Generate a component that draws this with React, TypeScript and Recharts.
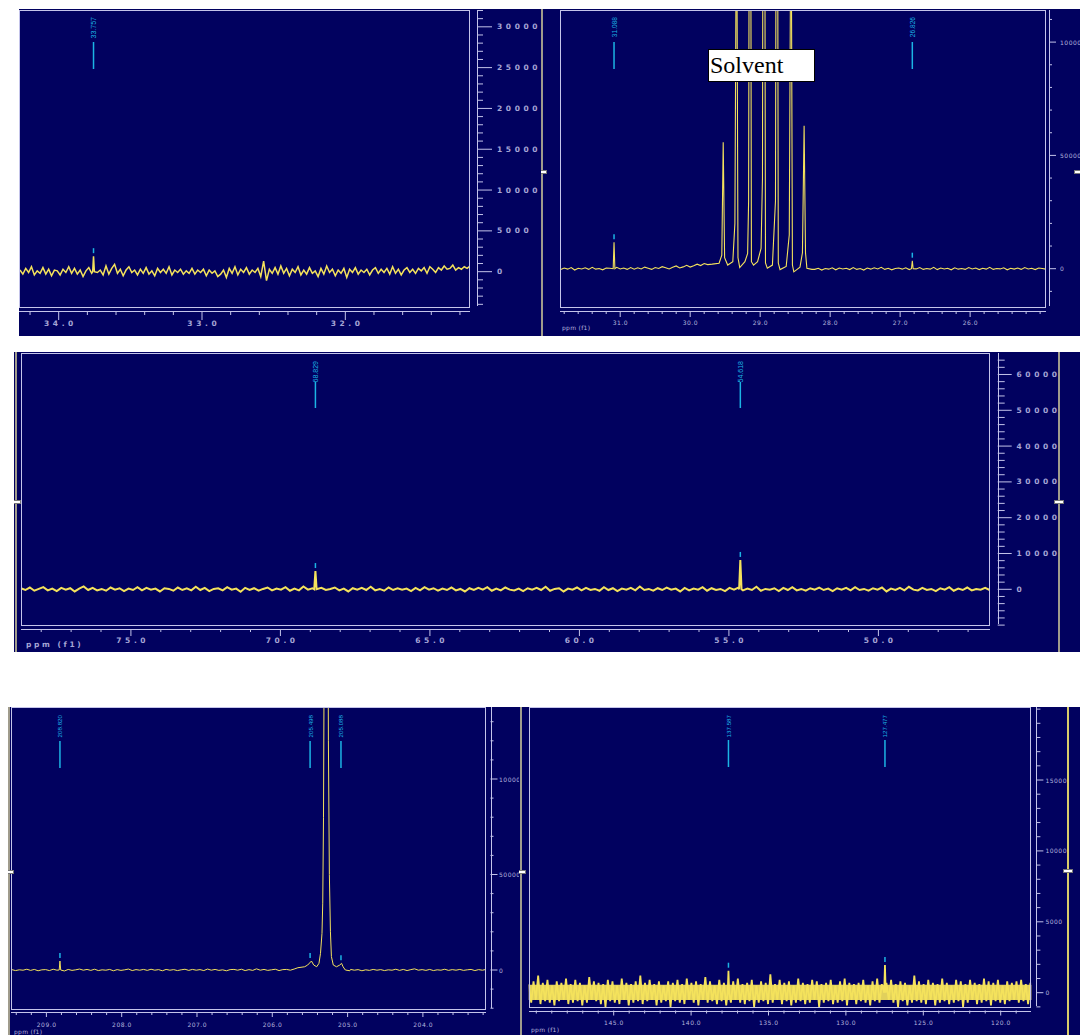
import React from 'react';
import { ComposedChart, Line, XAxis, YAxis, ReferenceDot, ReferenceArea } from 'recharts';

const NAVY = '#01015f';
const YELLOW = '#f4e25c';
const CYAN = '#1cb4e4';
const FRAME = '#c4c4ea';

// ---- panel 1 : 34.3 - 31.1 ppm
const p1NoiseStart = 34.27;
const p1NoiseStep = 0.02;
const p1Noise = [
  200, -300, 400, -100, 600, -400, 100, -200, 500, -300,
  300, -500, 200, 100, -400, 300, -100, 600, -200, 400,
  -300, 200, -600, 100, 500, -200, 300, -100, 200, -400,
  700, -300, 400, 900, -200, 300, -500, 200, 600, -100,
  200, -400, 300, -200, 500, -300, 100, -500, 400, -100,
  300, -200, 600, -400, 200, -100, 300, -300, 100, -200,
  400, -300, 200, -100, 300, -500, 200, -200, 100, -600,
  -300, 200, -700, 400, -200, 600, -400, 300, -100, 500,
  -300, 200, -100, 400, -600, 1300, -1100, 300, -200, 500,
  -300, 700, -200, 400, -500, 300, -100, 600, -400, 200,
  -300, 500, -200, 100, -600, 400, -300, 700, -100, 300,
  -500, 200, -200, 400, -700, 300, -100, 500, -300, 200,
  -100, 300, -400, 200, 500, -200, 300, -100, 400, -300,
  600, -200, 300, -400, 200, 500, -100, 300, -200, 400,
  100, 500, -200, 600, 300, -100, 500, 200, 700, 300,
  400, 800, 200, 500, 300, 600, 400, 700,
];
const p1SpikePpm = [33.757];
const p1SpikeHeight = [1900];
const p1LabelText = ['33.757'];
const p1XLabels = [34, 33, 32];
const p1YLabels = [0, 5000, 10000, 15000, 20000, 25000, 30000];

// ---- panel 2 : 31.9 - 24.9 ppm (solvent septet)
const p2NoiseLeft = [
  -400, 300, -200, 500, -600, 200, -100, 400, -300, 600,
  -200, 100, -500, 300, 200, -400, 600, -100, 300, -300,
  500, -200, 400, -100, 700, 200, -300, 500, 100, 900,
  400, -100, 600, 1200, 300, 800, 1500, 700, 1300, 2000,
  1400, 2300, 1800,
];
const p2NoiseRight = [
  -300, 200, -600, 100, -200, 400, -500, 300, -100, 200,
  -400, 500, -300, 100, -600, 300, -200, 400, -100, 600,
  -300, 200, -500, 100, 300, -200, 400, -400, 200, -100,
  500, -300, 100, -200, 600, -400, 300, -100, 200, -500,
  400, -200, 100, -300, 500, -100, 300, -400, 200, -200,
  600, -300, 100, -100, 400, -500, 200, -200, 300, -300,
  500, -100, 200, -400, 300, 100, -200,
];
const p2SolventPpm = [
  29.685, 29.587, 29.548, 29.528, 29.508, 29.464, 29.391, 29.361, 29.337, 29.317,
  29.292, 29.218, 29.179, 29.165, 29.145, 29.125, 29.095, 29.037, 28.987, 28.967,
  28.948, 28.924, 28.898, 28.825, 28.781, 28.761, 28.741, 28.716, 28.628, 28.584,
  28.559, 28.539, 28.519, 28.431, 28.396, 28.372, 28.352, 28.332, 28.26,
];
const p2SolventValue = [
  2000, 2400, 6000, 55800, 4900, 1600, 3100, 20000, 180000, 4900,
  500, 3100, 6700, 30000, 340000, 3100, 1600, 3100, 9000, 40000,
  400000, 2500, 200, 1600, 30000, 340000, 2500, -400, 1000, 15000,
  180000, 1600, -1400, 700, 7000, 63100, 7000, 200, -300,
];
const p2SpikePpm = [31.088, 26.826];
const p2SpikeHeight = [11650, 3530];
const p2LabelText = ['31.088', '26.826'];
const p2XLabels = [31, 30, 29, 28, 27, 26];
const p2YLabels = [0, 50000, 100000];

// ---- panel 3 : 78.7 - 46.3 ppm
const p3Noise = [
  300, -200, 500, -400, 100, 600, -300, 200, -500, 400,
  -100, 300, -600, 200, 800, -200, 400, -300, 100, -400,
  500, -100, 300, -500, 200, -200, 600, -300, 400, -100,
  200, -600, 300, 100, -400, 500, -200, 300, -300, 700,
  -200, 400, -500, 100, 300, -300, 600, -100, 200, -700,
  400, -200, 300, -400, 100, 500, -300, 200, -100, 600,
  -400, 200, -300, 800, -100, 300, -500, 400, -200, 100,
  500, -300, 200, -600, 300, -100, 400, -200, 700, -300,
  100, -400, 500, -200, 300, -100, 200, -500, 400, -300,
  600, -100, 300, -400, 200, -200, 500, -300, 100, -600,
  300, -200, 400, -100, 600, -400, 200, -300, 500, -100,
  -300, 200, -500, 300, -100, 400, -200, 700, -400, 100,
  300, -600, 200, -100, 500, -300, 400, -200, 100, -400,
  600, -200, 300, -500, 200, -100, 400, -300, 800, -200,
  100, -400, 300, -200, 500, -100, 200, -600, 400, -300,
  200, -100, 600, -400, 300, -200, 100, -500, 400, -100,
  500, -300, 200, -200, 700, -400, 100, -100, 300, -500,
  400, -200, 600, -300, 100, -400, 300, -100, 500, -200,
  200, -500, 300, -100, 400, -300, 600, -200, 100, -400,
  300, -100, 500, -600, 200, -200, 400, -300, 700, -100,
  -300, 400, -200, 100, -500, 300, -100, 600, -400, 200,
  -200, 500, -300, 100, -100, 400, -200,
];
const p3SpikePpm = [68.829, 54.618];
const p3SpikeHeight = [5100, 8200];
const p3LabelText = ['68.829', '54.618'];
const p3XLabels = [75, 70, 65, 60, 55, 50];
const p3YLabels = [0, 10000, 20000, 30000, 40000, 50000, 60000];

// ---- panel 4 : 209.5 - 203.2 ppm (solvent C=O)
const p4Noise = [
  200, -300, 100, -100, 400, -200, 300, -400, 100, 200,
  -300, 400, -100, 200, -500, 300, -200, 100, 500, -100,
  300, -200, 400, -300, 100, -100, 300, -400, 200, -200,
  100, 500, -300, 200, -100, 300, -200, 400, -100, 200,
  -400, 300, -100, 200, -300, 100, 400, -200, 300, -100,
  200, -300, 500, -100, 300, -200, 100, -400, 200, 300,
  -100, 400, -300, 200, -200, 600, -100, 300, -200, 100,
  400, -300, 200, 300, -100, 500, 200, -100, 300, 600,
  200, 400, 100, -200, 300, -300, 200, -100, 100, -200,
  300, -100, 200, -400, 100, -200, 300, -100, 200, -300,
  100, -100, 400, -200, 300, -300, 200, 600, -100, 200,
  -200, 300, -300, 100, -100, 400, -200, 200, -100, 300,
  -200, 100, 300, -300, 200, -100, 300,
];
const p4SolventPpm = [
  205.66, 205.57, 205.53, 205.48, 205.45, 205.41, 205.38, 205.36, 205.34, 205.33,
  205.32, 205.308, 205.29, 205.268, 205.255, 205.242, 205.228, 205.215, 205.19, 205.147,
  205.104, 205.08, 205.06, 205.03, 204.97,
];
const p4SolventValue = [
  1200, 1700, 2600, 4700, 2600, 1700, 3500, 8700, 19200, 35000,
  80000, 200000, 400000, 300000, 120000, 50000, 20000, 7000, 2600, 1700,
  2600, 3500, 1700, 0, -400,
];
const p4SpikePpm = [208.82];
const p4SpikeHeight = [4700];
const p4LabelPpm = [208.82, 205.498, 205.088];
const p4LabelMark = [4700, 4700, 3500];
const p4LabelText = ['208.820', '205.498', '205.088'];
const p4XLabels = [209, 208, 207, 206, 205, 204];
const p4YLabels = [0, 50000, 100000];

// ---- panel 5 : 150.5 - 118.0 ppm (noisy band)
const p5Noise = [
  600, -700, 800, -500, 1200, -800, 700, -600, 900, -700,
  500, -900, 800, -600, 700, -500, 1000, -800, 600, -700,
  900, -600, 700, -900, 500, -700, 1100, -500, 800, -600,
  700, -800, 600, -1000, 900, -600, 800, -700, 500, -800,
  1000, -500, 700, -900, 600, -700, 800, -600, 1200, -800,
  700, -600, 900, -500, 600, -900, 800, -700, 500, -600,
  800, -1000, 700, -600, 900, -700, 600, -800, 1000, -500,
  700, -700, 800, -900, 600, -500, 1100, -700, 800, -600,
  500, -800, 900, -600, 700, -900, 600, -700, 800, -500,
  1000, -700, 600, -800, 700, -600, 900, -1000, 500, -700,
  800, -600, 700, -800, 1300, -700, 600, -500, 900, -800,
  700, -600, 800, -900, 500, -700, 1000, -600, 700, -800,
  600, -700, 900, -500, 800, -1000, 600, -700, 700, -600,
  900, -800, 500, -700, 800, -600, 1000, -900, 700, -500,
  600, -800, 700, -600, 900, -700, 500, -900, 800, -600,
  1000, -700, 600, -800, 700, -500, 900, -700, 600, -1000,
  800, -600, 700, -900, 500, -700, 1200, -600, 800, -700,
  600, -800, 900, -500, 700, -900, 600, -700, 1000, -600,
  700, -800, 500, -700, 900, -600, 800, -1000, 600, -700,
  900, -500, 700, -800, 600, -700, 1000, -600, 800, -900,
  700, -600, 900, -700, 500, -800, 800, -600, 700, -500,
  800, -700, 900, -600, 600, -800, 700,
];
const p5BandLo = -520;
const p5BandHi = 560;
const p5SpikePpm = [137.587, 127.477];
const p5SpikeHeight = [1550, 1950];
const p5LabelText = ['137.587', '127.477'];
const p5XLabels = [145, 140, 135, 130, 125, 120];
const p5YLabels = [0, 5000, 10000, 15000];

type Pt = { ppm: number; v: number };
type NoisePart = { start: number; step: number; values: number[] };

function buildSpectrum(
  parts: NoisePart[],
  spikePpm: number[],
  spikeHeight: number[],
  hw: number,
  featPpm: number[] = [],
  featVal: number[] = [],
): Pt[] {
  const fLo = featPpm.length ? Math.min(...featPpm) : Infinity;
  const fHi = featPpm.length ? Math.max(...featPpm) : -Infinity;
  const pts: Pt[] = [];
  parts.forEach(({ start, step, values }) => {
    values.forEach((v, i) => {
      const ppm = +(start - i * step).toFixed(4);
      if (ppm >= fLo && ppm <= fHi) return;
      if (spikePpm.some((s) => Math.abs(s - ppm) < hw * 1.5)) return;
      pts.push({ ppm, v });
    });
  });
  featPpm.forEach((p, i) => pts.push({ ppm: p, v: featVal[i] }));
  spikePpm.forEach((p, i) => {
    pts.push({ ppm: p + hw, v: 0 }, { ppm: p, v: spikeHeight[i] }, { ppm: p - hw, v: 0 });
  });
  return pts.sort((a, b) => b.ppm - a.ppm);
}

const steps = (lo: number, hi: number, step: number) => {
  const out: number[] = [];
  const n = Math.round((hi - lo) / step);
  for (let i = 0; i <= n; i++) out.push(Math.round((lo + i * step) * 1000) / 1000);
  return out;
};

const BIG = { fontSize: 7.5, fontWeight: 700, letterSpacing: 3.6, fill: '#a6a6d6', fontFamily: 'DejaVu Sans' };
const SMALL = { fontSize: 6, fontWeight: 400, letterSpacing: 0.5, fill: '#b4b4de', fontFamily: 'DejaVu Sans' };

const PANELS = [
  {
    id: 'p1',
    box: { left: 19, top: 9, width: 522, height: 327 },
    plot: { left: 19, top: 10, right: 470, bottom: 308 },
    xDomain: [31.13, 34.277], yDomain: [-4450, 32060],
    xTicks: steps(31.2, 34.2, 0.2), yTicks: steps(-4000, 32000, 1000),
    xLabels: p1XLabels, yLabels: p1YLabels,
    data: buildSpectrum([{ start: p1NoiseStart, step: p1NoiseStep, values: p1Noise }], p1SpikePpm, p1SpikeHeight, 0.006),
    tags: p1SpikePpm.map((p, i) => ({ ppm: p, mark: p1SpikeHeight[i], text: p1LabelText[i] })),
    font: BIG, lineWidth: 1.5,
    ax: { xLine: 3, xMinor: 4, xMajor: 9, xLabel: 15, yLine: 7, yMinor: 6, yMajor: 15, yLabel: 27 },
    tag: { text: 7, lineTop: 32, lineBottom: 59, size: 7 },
    sliders: [] as any[], ppmLabel: null as any,
  },
  {
    id: 'p2',
    box: { left: 541, top: 9, width: 539, height: 327 },
    plot: { left: 560, top: 10, right: 1045.5, bottom: 308.3 },
    xDomain: [24.923, 31.86], yDomain: [-17480, 114170],
    xTicks: steps(25, 31.8, 0.2), yTicks: steps(-10000, 110000, 10000),
    xLabels: p2XLabels, yLabels: p2YLabels,
    data: buildSpectrum(
      [{ start: 31.85, step: 0.05, values: p2NoiseLeft }, { start: 28.22, step: 0.05, values: p2NoiseRight }],
      p2SpikePpm, p2SpikeHeight, 0.012, p2SolventPpm, p2SolventValue),
    tags: p2SpikePpm.map((p, i) => ({ ppm: p, mark: p2SpikeHeight[i], text: p2LabelText[i] })),
    font: SMALL, lineWidth: 1.1,
    ax: { xLine: 2.7, xMinor: 3, xMajor: 6, xLabel: 14.4, yLine: 3.5, yMinor: 3, yMajor: 7, yLabel: 14.5 },
    tag: { text: 7, lineTop: 32, lineBottom: 59, size: 6.6 },
    sliders: [{ x: 541.5, y: 172, color: '#a09c8c' }, { x: 1079, y: 172, color: 'transparent' }],
    ppmLabel: { x: 562, y: 325, big: false },
    solvent: { left: 708, top: 49, width: 107, height: 33 },
  },
  {
    id: 'p3',
    box: { left: 14, top: 352, width: 1066, height: 300 },
    plot: { left: 20.7, top: 353, right: 990.5, bottom: 626 },
    xDomain: [46.251, 78.686], yDomain: [-10250, 66000],
    xTicks: steps(47, 78, 1), yTicks: steps(-10000, 64000, 2000),
    xLabels: p3XLabels, yLabels: p3YLabels,
    data: buildSpectrum([{ start: 78.68, step: 0.15, values: p3Noise }], p3SpikePpm, p3SpikeHeight, 0.04),
    tags: p3SpikePpm.map((p, i) => ({ ppm: p, mark: p3SpikeHeight[i], text: p3LabelText[i] })),
    font: BIG, lineWidth: 2,
    ax: { xLine: 3, xMinor: 3, xMajor: 7, xLabel: 14, yLine: 7.2, yMinor: 7, yMajor: 14, yLabel: 26 },
    tag: { text: 8, lineTop: 29, lineBottom: 55, size: 7 },
    sliders: [{ x: 15.5, y: 502, color: '#a09c8c' }, { x: 1059, y: 502, color: '#a09c8c' }],
    ppmLabel: { x: 26, y: 641, big: true },
  },
  {
    id: 'p4',
    box: { left: 8, top: 707, width: 511, height: 328 },
    plot: { left: 11, top: 707, right: 486, bottom: 1010 },
    xDomain: [203.162, 209.47], yDomain: [-20940, 137700],
    xTicks: steps(203.2, 209.4, 0.2), yTicks: steps(-20000, 130000, 10000),
    xLabels: p4XLabels, yLabels: p4YLabels,
    data: buildSpectrum([{ start: 209.46, step: 0.05, values: p4Noise }], p4SpikePpm, p4SpikeHeight, 0.01, p4SolventPpm, p4SolventValue),
    tags: p4LabelPpm.map((p, i) => ({ ppm: p, mark: p4LabelMark[i], text: p4LabelText[i] })),
    font: SMALL, lineWidth: 1,
    ax: { xLine: 2, xMinor: 3, xMajor: 5, xLabel: 14.5, yLine: 4.5, yMinor: 3, yMajor: 7, yLabel: 13 },
    tag: { text: 8, lineTop: 34, lineBottom: 61, size: 6.2 },
    sliders: [{ x: 9, y: 872, color: '#a09c8c' }],
    ppmLabel: { x: 14, y: 1029, big: false },
  },
  {
    id: 'p5',
    box: { left: 519, top: 707, width: 561, height: 328 },
    plot: { left: 528.7, top: 707, right: 1031.4, bottom: 1007.5 },
    xDomain: [118.017, 150.491], yDomain: [-1044, 20150],
    xTicks: steps(119, 150, 1), yTicks: steps(-1000, 20000, 1000),
    xLabels: p5XLabels, yLabels: p5YLabels,
    data: buildSpectrum([{ start: 150.48, step: 0.15, values: p5Noise }], p5SpikePpm, p5SpikeHeight, 0.05),
    tags: p5SpikePpm.map((p, i) => ({ ppm: p, mark: p5SpikeHeight[i], text: p5LabelText[i] })),
    font: SMALL, lineWidth: 1.8,
    band: [p5BandLo, p5BandHi],
    ax: { xLine: 3, xMinor: 3, xMajor: 5, xLabel: 15.2, yLine: 5, yMinor: 4, yMajor: 7, yLabel: 14 },
    tag: { text: 8, lineTop: 33, lineBottom: 60, size: 6.2 },
    sliders: [{ x: 520.5, y: 872, color: '#a09c8c' }, { x: 1067.5, y: 871, color: '#d8cc6a' }],
    ppmLabel: { x: 531, y: 1027, big: false },
  },
];

const isIn = (list: number[], v: number) => list.some((l) => Math.abs(l - v) < 1e-6);

function SpectrumPanel({ cfg }: { cfg: any }) {
  const { box, plot, ax, tag } = cfg;
  const margin = { left: plot.left - box.left, top: plot.top - box.top, right: 0, bottom: 0 };
  const yAxisWidth = box.left + box.width - plot.right;
  const xAxisHeight = box.top + box.height - plot.bottom;
  const rel = (x: number, y: number) => ({ left: x - box.left, top: y - box.top });

  const xTick = (props: any) => {
    const { x, y, payload } = props;
    const v = payload.value;
    const major = isIn(cfg.xLabels, v);
    const y0 = y + ax.xLine;
    return (
      <g>
        <line x1={x} x2={x} y1={y0} y2={y0 + (major ? ax.xMajor : ax.xMinor)} stroke={FRAME} strokeWidth={1} />
        {major && (
          <text x={x + cfg.font.letterSpacing / 2} y={y + ax.xLabel} textAnchor="middle" dominantBaseline="central" {...cfg.font}>
            {v.toFixed(1)}
          </text>
        )}
      </g>
    );
  };

  const yTick = (props: any) => {
    const { x, y, payload } = props;
    const v = payload.value;
    const major = isIn(cfg.yLabels, v);
    const x0 = x + ax.yLine;
    return (
      <g>
        <line x1={x0} x2={x0 + (major ? ax.yMajor : ax.yMinor)} y1={y} y2={y} stroke={FRAME} strokeWidth={1} />
        {major && (
          <text x={x + ax.yLabel} y={y} textAnchor="start" dominantBaseline="central" {...cfg.font}>
            {String(v)}
          </text>
        )}
      </g>
    );
  };

  const peakTag = (text: string) => (props: any) => {
    const { cx, cy } = props;
    const top = margin.top;
    const ty = top + tag.text;
    return (
      <g>
        <text
          x={cx}
          y={ty}
          transform={`rotate(-90 ${cx} ${ty})`}
          textAnchor="end"
          dominantBaseline="central"
          fontSize={tag.size}
          fontFamily="Liberation Sans"
          fill={CYAN}
        >
          {text}
        </text>
        <line x1={cx} x2={cx} y1={top + tag.lineTop} y2={top + tag.lineBottom} stroke={CYAN} strokeWidth={1.5} />
        <line x1={cx} x2={cx} y1={cy - 8} y2={cy - 3} stroke={CYAN} strokeWidth={1.5} />
      </g>
    );
  };

  return (
    <div style={{ position: 'absolute', left: box.left, top: box.top, width: box.width, height: box.height, background: NAVY, overflow: 'hidden' }}>
      <ComposedChart width={box.width} height={box.height} data={cfg.data} margin={margin}>
        <XAxis
          dataKey="ppm"
          type="number"
          domain={cfg.xDomain}
          reversed
          allowDataOverflow
          ticks={cfg.xTicks}
          interval={0}
          tickSize={0}
          tickMargin={0}
          axisLine={false}
          tickLine={false}
          height={xAxisHeight}
          tick={xTick}
        />
        <YAxis
          orientation="right"
          type="number"
          domain={cfg.yDomain}
          allowDataOverflow
          ticks={cfg.yTicks}
          interval={0}
          tickSize={0}
          tickMargin={0}
          axisLine={false}
          tickLine={false}
          width={yAxisWidth}
          tick={yTick}
        />
        {cfg.band && (
          <ReferenceArea y1={cfg.band[0]} y2={cfg.band[1]} fill={YELLOW} fillOpacity={0.92} stroke="none" />
        )}
        <Line dataKey="v" type="linear" stroke={YELLOW} strokeWidth={cfg.lineWidth} strokeLinejoin="miter" dot={false} activeDot={false} isAnimationActive={false} />
        {cfg.tags.map((t: any) => (
          <ReferenceDot key={t.text} x={t.ppm} y={t.mark} r={0} ifOverflow="visible" shape={peakTag(t.text)} />
        ))}
      </ComposedChart>

      {/* plot frame and detached axis lines */}
      <div style={{ position: 'absolute', ...rel(plot.left, plot.top), width: plot.right - plot.left, height: plot.bottom - plot.top, border: `1px solid ${FRAME}`, boxSizing: 'border-box' }} />
      <div style={{ position: 'absolute', ...rel(plot.left, plot.bottom + ax.xLine), width: plot.right - plot.left, height: 1, background: FRAME }} />
      <div style={{ position: 'absolute', ...rel(plot.right + ax.yLine, plot.top), width: 1, height: plot.bottom - plot.top - 2, background: FRAME }} />

      {cfg.ppmLabel && (
        <div
          style={{
            position: 'absolute',
            ...rel(cfg.ppmLabel.x, cfg.ppmLabel.y),
            color: cfg.font.fill,
            fontFamily: 'DejaVu Sans',
            fontSize: cfg.ppmLabel.big ? 7.5 : 6,
            fontWeight: cfg.ppmLabel.big ? 700 : 400,
            letterSpacing: cfg.ppmLabel.big ? 2.6 : 0.3,
            lineHeight: 1,
            whiteSpace: 'nowrap',
          }}
        >
          ppm (f1)
        </div>
      )}

      {cfg.sliders.map((s: any, i: number) => (
        <React.Fragment key={i}>
          <div style={{ position: 'absolute', ...rel(s.x - 1, box.top), width: 2, height: box.height, background: s.color }} />
          <div style={{ position: 'absolute', ...rel(s.x - 5, s.y - 2), width: 10, height: 4, background: '#fff', border: '1px solid #777', boxSizing: 'border-box' }} />
        </React.Fragment>
      ))}

      {cfg.solvent && (
        <div
          style={{
            position: 'absolute',
            ...rel(cfg.solvent.left, cfg.solvent.top),
            width: cfg.solvent.width,
            height: cfg.solvent.height,
            background: '#fff',
            border: '1px solid #000',
            boxSizing: 'border-box',
            fontFamily: 'Liberation Serif',
            fontSize: 24,
            lineHeight: '31px',
            paddingLeft: 1,
            color: '#000',
          }}
        >
          Solvent
        </div>
      )}
    </div>
  );
}

export default function App() {
  return (
    <div style={{ position: 'absolute', left: 0, top: 0, width: 1080, height: 1035, background: '#fff', overflow: 'hidden' }}>
      {PANELS.map((p) => (
        <SpectrumPanel key={p.id} cfg={p} />
      ))}
    </div>
  );
}
